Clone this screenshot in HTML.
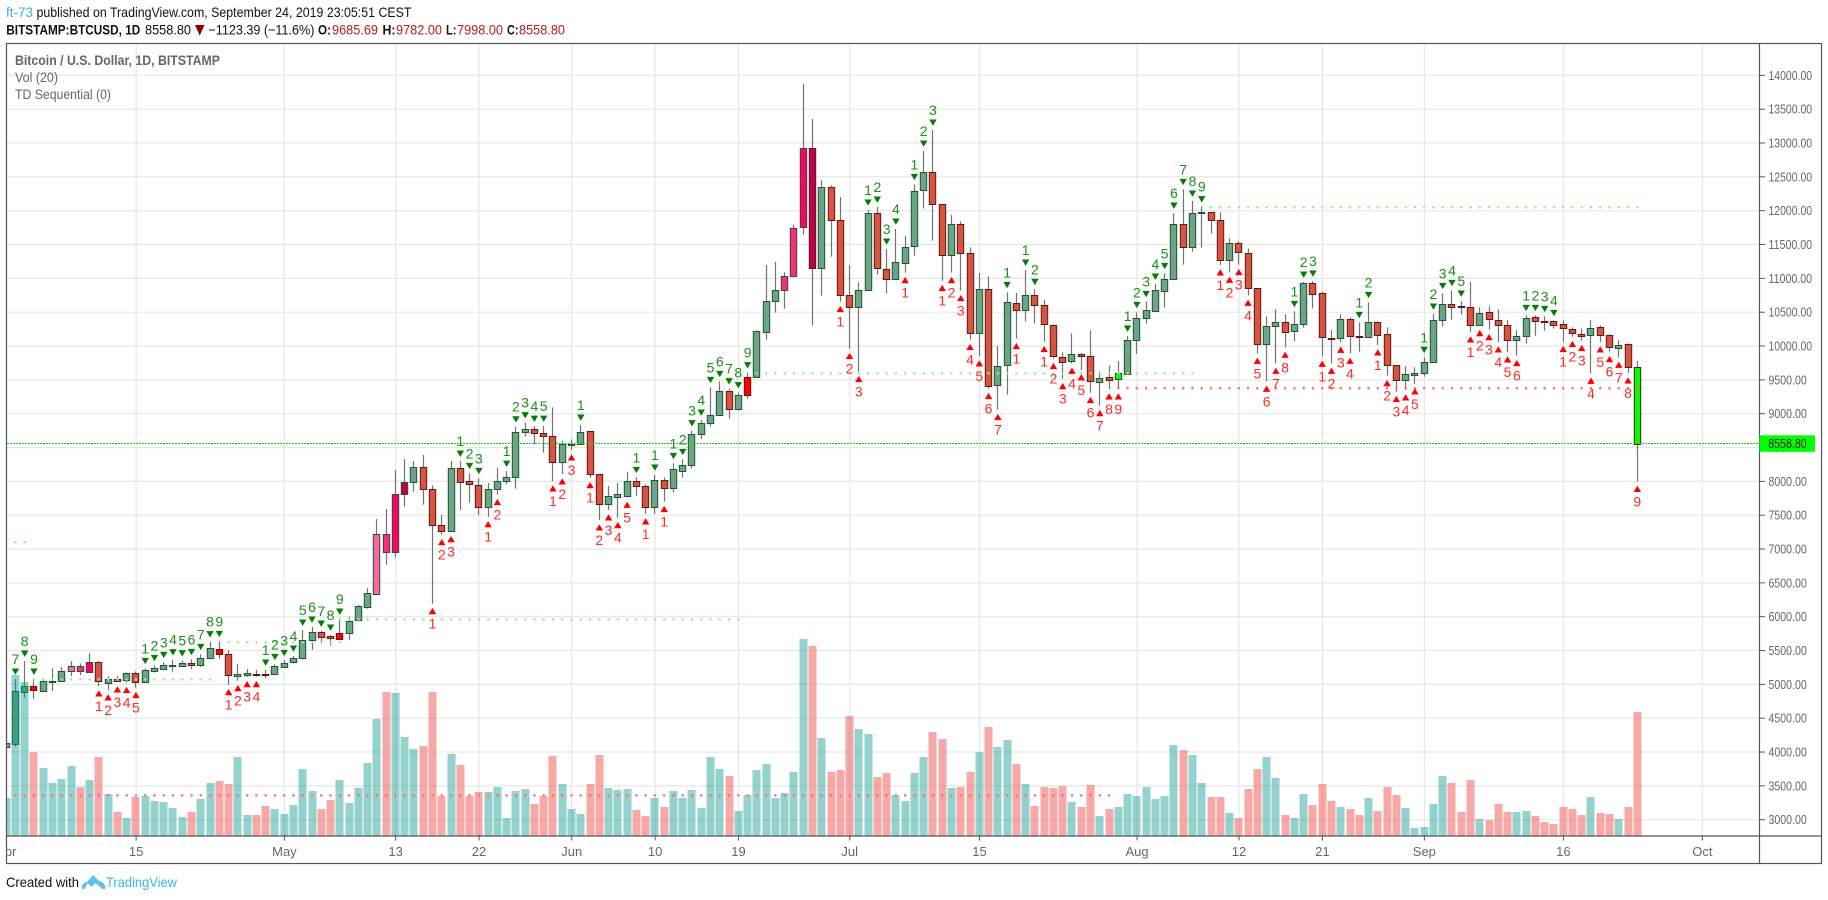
<!DOCTYPE html>
<html lang="en">
<head>
<meta charset="utf-8">
<title>BTCUSD 1D chart</title>
<style>
html,body{margin:0;padding:0;background:#fff;width:1828px;height:900px;overflow:hidden}
svg{display:block}
text{font-family:"Liberation Sans",sans-serif}
</style>
</head>
<body>
<svg id="chart" xmlns="http://www.w3.org/2000/svg" width="1828" height="900" viewBox="0 0 1828 900">
  <rect x="0" y="0" width="1828" height="900" fill="#fff"/>
  <g font-size="14">
    <text x="6" y="17" fill="#3bb3e4" textLength="27" lengthAdjust="spacingAndGlyphs">ft-73</text>
    <text x="36.5" y="17" fill="#111" textLength="375" lengthAdjust="spacingAndGlyphs">published on TradingView.com, September 24, 2019 23:05:51 CEST</text>
  </g>
  <g font-size="14">
    <text x="6.3" y="34.5" font-weight="bold" fill="#111" textLength="134" lengthAdjust="spacingAndGlyphs">BITSTAMP:BTCUSD, 1D</text>
    <text x="145" y="34.5" fill="#111" textLength="46" lengthAdjust="spacingAndGlyphs">8558.80</text>
    <polygon points="195,25 204.5,25 199.7,35.5" fill="#8b0000"/>
    <text x="208.4" y="34.5" fill="#111" textLength="106" lengthAdjust="spacingAndGlyphs">−1123.39 (−11.6%)</text>
    <text x="318" y="34.5" font-weight="bold" fill="#111" textLength="13" lengthAdjust="spacingAndGlyphs">O:</text>
    <text x="332" y="34.5" fill="#b71c1c" textLength="46" lengthAdjust="spacingAndGlyphs">9685.69</text>
    <text x="382.5" y="34.5" font-weight="bold" fill="#111" textLength="13" lengthAdjust="spacingAndGlyphs">H:</text>
    <text x="396" y="34.5" fill="#b71c1c" textLength="46" lengthAdjust="spacingAndGlyphs">9782.00</text>
    <text x="446" y="34.5" font-weight="bold" fill="#111" textLength="10.5" lengthAdjust="spacingAndGlyphs">L:</text>
    <text x="457" y="34.5" fill="#b71c1c" textLength="46" lengthAdjust="spacingAndGlyphs">7998.00</text>
    <text x="507" y="34.5" font-weight="bold" fill="#111" textLength="11.5" lengthAdjust="spacingAndGlyphs">C:</text>
    <text x="519" y="34.5" fill="#b71c1c" textLength="46" lengthAdjust="spacingAndGlyphs">8558.80</text>
  </g>
  <defs>
    <clipPath id="plot-clip"><rect x="6.5" y="43.5" width="1753" height="792.5"/></clipPath>
    <clipPath id="time-clip"><rect x="7" y="837" width="1752" height="26"/></clipPath>
  </defs>
  <g id="grid"></g>
  <g id="plot" clip-path="url(#plot-clip)"></g>
  <g font-size="14" fill="#666">
    <text x="15" y="65" font-weight="bold" textLength="205" lengthAdjust="spacingAndGlyphs">Bitcoin / U.S. Dollar, 1D, BITSTAMP</text>
    <text x="15" y="82" textLength="43" lengthAdjust="spacingAndGlyphs">Vol (20)</text>
    <text x="15" y="99" textLength="96" lengthAdjust="spacingAndGlyphs">TD Sequential (0)</text>
  </g>
  <g id="price-axis"></g>
  <g id="time-axis"></g>
  <g fill="none" stroke="#555" stroke-width="1.2">
    <rect x="6.5" y="43.5" width="1815" height="820"/>
    <line x1="6.5" y1="836" x2="1821.5" y2="836"/>
    <line x1="1759.5" y1="43.5" x2="1759.5" y2="863.5"/>
  </g>
  <g id="last-tag"></g>
  <g font-size="14">
    <text x="6" y="887" fill="#111" textLength="73" lengthAdjust="spacingAndGlyphs">Created with</text>
    <path d="M82 889 q-1 -6 5 -7 l6 -7 l6 6 q6 1 6.5 8 l-3 0 l-7 -6 l-4 4 l-4 -4 l-3 6 z" fill="#5bc0ee"/>
    <text x="106" y="887" fill="#3bb3e4" textLength="71" lengthAdjust="spacingAndGlyphs">TradingView</text>
  </g>
</svg>
<script>
// Daily bars: index 0 is day -30 (Apr 1 2019); last is day 146 (Sep 24 2019).
const firstDay = -30;
const opens = [
4079,4123,4892,4971,4907,5045,5045,5192,5192,5177,
5325,5025,5074,5059,5163,5030,5192,5222,5276,5276,
5310,5291,5384,5527,5443,5128,5138,5158,5148,5148,
5261,5325,5384,5650,5769,5714,5753,5753,5945,6147,
6330,6960,6960,7807,7985,8206,7881,7349,7261,8192,
8000,7940,7615,7881,8000,8059,8724,8768,8709,8665,
8280,8541,8556,8739,8103,7670,7773,7788,8000,7926,
7626,8015,7907,8158,8237,8695,8857,8976,9330,9074,
9537,9537,10212,10660,10823,11030,11754,12921,11148,12345,
11857,10749,10572,10823,11961,11133,10985,11222,11473,12301,
12567,12094,11340,11798,11370,10187,10838,9419,9715,10631,
10527,10749,10601,10306,9833,9774,9877,9847,9463,9537,
9507,9581,10083,10409,10517,10808,10985,11798,11468,11960,
11975,11857,11266,11517,11369,10852,10024,10290,10349,10216,
10320,10926,10778,10113,10113,10394,10143,10128,10349,10172,
9714,9493,9566,9596,9759,10379,10616,10586,10571,10305,
10498,10379,10305,10084,10153,10424,10364,10364,10320,10246,
10172,10158,10276,10158,9966,10025,9685.69];
const highs = [
4448,5079,5345,5079,5079,5237,5256,5345,5310,5463,
5340,5118,5123,5177,5192,5237,5281,5325,5365,5350,
5370,5444,5631,5636,5503,5301,5227,5212,5212,5296,
5355,5419,5803,5847,5788,5729,5965,6000,6172,6423,
7443,7591,8167,8330,8300,8389,7941,7502,8300,8300,
8118,8044,7975,8197,8152,8807,8867,8817,8817,9093,
8601,8620,8832,8739,8103,7931,7975,8138,8059,7956,
8094,8059,8266,8325,8749,8907,9389,9478,9370,9311,
9606,10232,11197,11242,11089,11793,13872,13355,12449,12375,
12202,11197,10941,12010,12054,11434,11729,11626,12389,12882,
13192,12094,11936,11843,11458,11079,11030,10000,10793,10784,
11123,10838,10680,10320,9907,10187,9892,10232,9626,9714,
9778,10148,10497,10660,10916,11074,11965,12315,12143,12059,
11975,11975,11591,11547,11443,10852,10438,10542,10468,10512,
10945,10960,10808,10236,10468,10423,10349,10645,10364,10276,
9714,9699,9685,9833,10473,10778,10823,10665,10946,10571,
10586,10542,10384,10231,10453,10453,10438,10379,10379,10276,
10261,10384,10305,10172,10084,10039,9782];
const lows = [
4079,4079,4803,4783,4902,4902,5040,5123,5138,5168,
4975,4916,5035,5025,4951,5025,5177,5212,5187,5261,
5222,5261,5370,5379,4995,5054,5113,5113,5089,5133,
5251,5306,5370,5512,5606,5572,5655,5655,5931,6118,
6330,6768,6872,7625,7847,7655,6192,7211,7256,7576,
7684,7502,7477,7803,7955,7891,8660,8551,8423,8005,
8108,8463,8551,8054,7428,7576,7463,7763,7788,7518,
7518,7700,7833,8054,8187,8626,8808,8966,8926,9045,
9222,9532,10094,10493,10552,11015,11646,10301,10744,11320,
10655,9961,9621,10818,11054,10774,10980,11084,11335,12030,
11557,10966,11084,10818,10094,9852,9370,9059,9281,10109,
10360,10330,10064,9813,9517,9744,9646,9311,9118,9364,
9364,9576,9886,10330,10507,10566,10980,11202,11394,11453,
11660,11197,11088,11202,10748,9891,9478,9743,9980,10069,
10271,10556,9847,9743,10054,9891,9916,10123,10015,9561,
9325,9350,9438,9547,9754,10286,10389,10463,10207,10300,
10241,10059,9911,9857,10034,10153,10227,10256,10064,10138,
10079,9596,10059,9916,9832,9601,7998];
const closes = [
4128,4902,4971,4911,5045,5049,5192,5276,5276,5325,
5045,5074,5054,5163,5030,5207,5237,5281,5281,5310,
5291,5384,5532,5443,5133,5148,5163,5148,5143,5266,
5310,5384,5650,5769,5705,5680,5675,5931,6152,6344,
7216,7216,7807,7985,8206,7881,7349,7261,8192,7995,
7955,7615,7881,8000,8059,8724,8768,8709,8665,8280,
8546,8551,8724,8103,7660,7778,7807,8000,7926,7626,
8015,7907,8178,8237,8695,8857,8976,9330,9074,9271,
9271,10217,10660,10823,11030,11739,12921,11148,12345,11857,
10749,10572,10823,11961,11148,10985,11237,11458,12286,12567,
12094,11340,11798,11370,10187,10838,9404,9700,10646,10527,
10749,10601,10320,9847,9759,9877,9847,9478,9522,9492,
9596,10083,10409,10527,10822,10985,11798,11458,11960,11975,
11857,11266,11517,11384,10852,10024,10290,10349,10202,10320,
10926,10763,10128,10108,10394,10143,10128,10349,10157,9714,
9492,9581,9596,9759,10379,10616,10581,10571,10305,10483,
10394,10305,10084,10143,10409,10364,10350,10305,10261,10187,
10143,10261,10158,9980,10010,9685,8558.8];
const volumes = [
11400,48300,46200,25200,20400,15900,17100,21000,14700,16800,
23700,12600,7200,5400,11700,12000,10500,10200,8400,5700,
7200,11100,15900,16500,15600,23700,6300,6300,9000,8100,
6600,9300,20100,13500,8100,10800,16800,9900,14400,21900,
35100,43200,42900,29700,26100,27000,43200,12000,24600,21300,
12000,13200,13200,14700,5400,13500,14100,9600,12000,24000,
15600,8100,6600,15600,24300,14400,13800,14100,7800,6000,
11400,8700,13500,11400,13800,8400,23700,20100,18000,7500,
12300,19800,21600,11400,12900,19200,59100,57000,29400,19200,
19800,36000,32100,30600,17700,18900,12300,10500,18900,23700,
31200,29100,14400,14700,19200,25200,32700,26700,28800,21600,
15600,9000,14700,14400,15000,10200,8700,15300,6000,8100,
8700,12600,12000,14700,11100,12000,27300,25800,24300,15900,
11700,11700,6900,5400,14100,20100,23700,17400,6300,5400,
12600,9300,15600,10500,8700,8100,6300,11400,7500,14700,
12300,8400,2400,2700,9600,18000,15900,7200,16800,5100,
4800,9600,7200,7200,7500,6000,4200,3600,8700,8100,
6300,11700,6900,6600,5100,8700,37200];
const volumeDownDays = [-27,-22,-20,-18,-16,-10,-7,-6,-3,-2,4,5,11,15,16,17,19,20,21,27,28,29,33,34,38,39,41,48,57,59,60,61,64,65,70,71,73,74,76,79,81,82,83,84,86,87,89,97,100,101,103,104,105,108,111,112,113,115,116,118,119,120,126,127,128,130,131,132,135,136,137,138,139,140,142,143,145,146];
// Highlighted bars by TD state
const brightRedDays = [-27,-7,6,50];
const brightGreenDays = [90,146];
const pinkLightDays = [-23,10];
const pinkMidDays = [-22,11,54,55];
const pinkHotDays = [-21,12,56];
const pinkDeepDays = [13,57];
// TD Sequential counts
const sellDays = [-29,-28,-27,-15,-14,-13,-12,-11,-10,-9,-8,-7,-2,-1,0,1,2,3,4,5,6,19,20,21,24,25,26,27,28,32,38,40,42,43,44,45,46,47,48,49,50,63,64,65,66,68,69,70,78,80,81,91,92,93,94,95,96,97,98,99,109,110,111,116,117,123,124,125,126,127,134,135,136,137];
const sellCounts = [7,8,9,1,2,3,4,5,6,7,8,9,1,2,3,4,5,6,7,8,9,1,2,3,1,2,3,4,5,1,1,1,1,2,3,4,5,6,7,8,9,1,2,3,4,1,2,3,1,1,2,1,2,3,4,5,6,7,8,9,1,2,3,1,2,1,2,3,4,5,1,2,3,4];
const buyDays = [-20,-19,-18,-17,-16,-6,-5,-4,-3,16,17,18,22,23,29,30,31,33,34,35,36,37,39,41,60,61,62,67,71,72,73,74,75,76,77,79,82,83,84,85,86,87,88,89,90,101,102,103,104,105,106,107,108,112,113,114,115,118,119,120,121,122,128,129,130,131,132,133,138,139,140,141,142,143,144,145,146];
const buyCounts = [1,2,3,4,5,1,2,3,4,1,2,3,1,2,1,2,3,1,2,3,4,5,1,1,1,2,3,1,1,2,3,4,5,6,7,1,1,2,3,4,5,6,7,8,9,1,2,3,4,5,6,7,8,1,2,3,4,1,2,3,4,5,1,2,3,4,5,6,1,2,3,4,5,6,7,8,9];
// TD support / resistance levels
const levelPrices = [7100,5074,5621,5961,9596,12050,9375,3360];
const levelFrom = [-29,-27,-6,6,51,100,90,-29];
const levelTo = [-28,-8,6,49,98,146,146,89];
const levelIsSupport = [false,false,false,false,false,false,true,true];
// Axes
const priceTicks = [3000,3500,4000,4500,5000,5500,6000,6500,7000,7500,8000,8500,9000,9500,10000,10500,11000,11500,12000,12500,13000,13500,14000];
const timeTickDays = [-30,-16,0,12,21,31,40,49,61,75,92,103,112,123,138,153];
const timeTickLabels = ['Apr','15','May','13','22','Jun','10','19','Jul','15','Aug','12','21','Sep','16','Oct'];
const lastPrice = 8558.8;

function yPrice(p){ return 819.7 - (p - 3000) * 0.06767; }
function xDay(d){ return 283.7 + d * 9.268; }
function yVolume(v){ return 836 - v / 300; }

const NS = 'http://www.w3.org/2000/svg';
function make(tag, parent, attrs, txt){
  const e = document.createElementNS(NS, tag);
  for (const k in attrs) e.setAttribute(k, attrs[k]);
  if (txt !== undefined) e.textContent = txt;
  parent.appendChild(e);
  return e;
}
const gridG = document.getElementById('grid');
const plotG = document.getElementById('plot');
const priceG = document.getElementById('price-axis');
const timeG = document.getElementById('time-axis');
const tagG = document.getElementById('last-tag');

priceTicks.forEach(function(p){
  const y = yPrice(p);
  const gl = make('line', gridG, {x1:7, x2:1759, y1:y, y2:y, stroke:'#e6e6e6', 'stroke-width':1.2});
  
  
  const tk = make('line', priceG, {x1:1759.5, x2:1765, y1:y, y2:y, stroke:'#555', 'stroke-width':1});
  
  
  const s = p.toFixed(2);
  const lb = make('text', priceG, {x:1768.5, y:y + 4.5, 'font-size':13, fill:'#666', textLength: s.length > 7 ? 43.6 : 38.3, lengthAdjust:'spacingAndGlyphs'}, s);
  
  
});

const timeClip = make('g', timeG, {'clip-path':'url(#time-clip)'});


timeTickDays.forEach(function(d, i){
  const x = xDay(d) + 0.7;
  const gl = make('line', gridG, {x1:x, x2:x, y1:44, y2:836, stroke:'#e6e6e6', 'stroke-width':1.2});
  
  
  const tk = make('line', timeG, {x1:x, x2:x, y1:836, y2:840.5, stroke:'#555', 'stroke-width':1});
  
  
  const lb = make('text', timeClip, {x:x, y:856, 'font-size':13, fill:'#666', 'text-anchor':'middle'}, timeTickLabels[i]);
  
  
});

function bodyFill(d, up){
  if (brightRedDays.includes(d)) return '#ff0000';
  if (brightGreenDays.includes(d)) return '#00ff00';
  if (pinkLightDays.includes(d)) return '#ff66a3';
  if (pinkMidDays.includes(d)) return '#ff2a80';
  if (pinkHotDays.includes(d)) return '#ff0066';
  if (pinkDeepDays.includes(d)) return '#bd0050';
  return up ? '#6ba583' : '#d75442';
}

// candles
opens.forEach(function(o, i){
  const d = firstDay + i;
  const c = closes[i];
  const up = c >= o;
  const cx = Math.round(xDay(d));
  const g = make('g', plotG, {});
  
  
  make('line', g, {x1:cx + 0.5, x2:cx + 0.5, y1:yPrice(highs[i]), y2:yPrice(lows[i]), stroke:'#737375', 'stroke-width':1.2});
  const top = Math.round(yPrice(Math.max(o, c))) + 0.5;
  const bot = Math.round(yPrice(Math.min(o, c))) + 0.5;
  make('rect', g, {x:cx - 2.7, y:top, width:6.4, height:Math.max(bot - top, 1), fill:bodyFill(d, up), stroke: up ? '#225437' : '#5b1a13', 'stroke-width':1});
});

// volume bars
volumes.forEach(function(v, i){
  const d = firstDay + i;
  const y = yVolume(v);
  const down = volumeDownDays.includes(d);
  const bar = make('rect', plotG, {x:Math.round(xDay(d)) - 3.5, y:y, width:8, height:836 - y, fill: down ? 'rgba(239,83,80,0.5)' : 'rgba(0,150,136,0.42)'});
  
  
});

// last price line
const lastY = yPrice(lastPrice);
const lastLine = make('line', plotG, {x1:7, x2:1759, y1:lastY, y2:lastY, stroke:'#12d812', 'stroke-width':1, 'stroke-dasharray':'2 1'});



// TD levels drawn as a dot on each bar
levelPrices.forEach(function(p, i){
  const g = make('g', plotG, {fill: levelIsSupport[i] ? '#ff6a6a' : '#8df58d'});
  
  
  const y = yPrice(p);
  for (let d = levelFrom[i]; d <= levelTo[i]; d++) {
    make('circle', g, {cx:xDay(d) + 0.5, cy:y, r:1.25});
  }
});

// TD sequential markers
sellDays.forEach(function(d, i){
  const cx = xDay(d) + 0.5;
  const hy = yPrice(highs[d - firstDay]);
  const g = make('g', plotG, {});
  
  
  make('polygon', g, {points:(cx - 3.7) + ',' + (hy - 10.5) + ' ' + (cx + 3.7) + ',' + (hy - 10.5) + ' ' + cx + ',' + (hy - 4.2), fill:'#007f00'});
  make('text', g, {x:cx, y:hy - 15, 'font-size':14, fill:'#1b8f1b', 'text-anchor':'middle'}, sellCounts[i]);
});
buyDays.forEach(function(d, i){
  const cx = xDay(d) + 0.5;
  const ly = yPrice(lows[d - firstDay]);
  const g = make('g', plotG, {});
  
  
  make('polygon', g, {points:(cx - 3.7) + ',' + (ly + 10.5) + ' ' + (cx + 3.7) + ',' + (ly + 10.5) + ' ' + cx + ',' + (ly + 4.2), fill:'#ff0000'});
  make('text', g, {x:cx, y:ly + 25, 'font-size':14, fill:'#ff2b2b', 'text-anchor':'middle'}, buyCounts[i]);
});

// last price tag
const tagRect = make('rect', tagG, {x:1759.5, y:lastY - 8.2, width:55.5, height:16.4, fill:'#00ff00'});


const tagText = make('text', tagG, {x:1768.2, y:lastY + 4.5, 'font-size':13, fill:'#222', textLength:38.5, lengthAdjust:'spacingAndGlyphs'}, lastPrice.toFixed(2));


</script>
</body>
</html>
